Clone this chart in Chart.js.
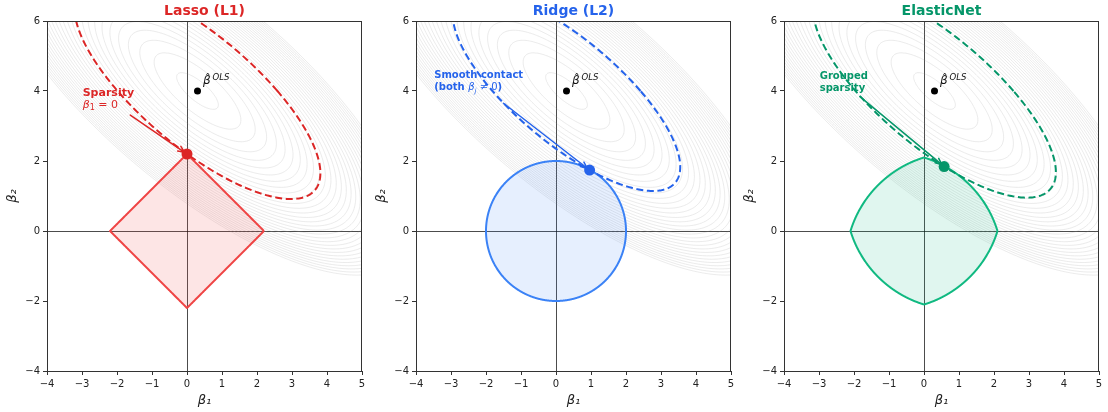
<!DOCTYPE html>
<html><head><meta charset="utf-8">
<script src="https://cdn.jsdelivr.net/npm/chart.js@4.4.0/dist/chart.umd.min.js"></script>
<style>
html,body{margin:0;padding:0;background:#fff;width:1108px;height:412px;overflow:hidden;}
.panel{position:absolute;top:0;width:368px;height:412px;}
canvas{display:block;}
</style></head><body>
<div class="panel" style="left:1px"><canvas id="c0" width="368" height="412"></canvas></div>
<div class="panel" style="left:370px"><canvas id="c1" width="368" height="412"></canvas></div>
<div class="panel" style="left:738px"><canvas id="c2" width="368" height="412"></canvas></div>
<script>
// ---------------- data ----------------
const panelTitles = ['Lasso (L1)', 'Ridge (L2)', 'ElasticNet'];
const xTicks = [-4, -3, -2, -1, 0, 1, 2, 3, 4, 5];
const yTicks = [-4, -2, 0, 2, 4, 6];
const olsB1 = [0.3];
const olsB2 = [4.0];
const lossGram = [[1.0, 0.864], [0.864, 1.294]];
const contourLevels = [0.15, 0.65, 1.15, 1.65, 2.15, 2.65, 3.15, 3.65, 4.15, 4.65, 5.15, 5.65, 6.15, 6.65, 7.15, 7.65, 8.15, 8.65, 9.15, 9.65, 10.15, 10.65, 11.15, 11.65, 12.15, 12.65, 13.15, 13.65, 14.15, 14.65, 15.15];
const tangentB1 = [0.0, 0.96, 0.575];
const tangentB2 = [2.2, 1.74, 1.84];
const constraintSize = [2.2, 2.0, 2.1];   // L1 budget, L2 radius, elastic-net axis intercept
const elasticMix = 0.65;

// ---------------- styling ----------------
const FONT = 'DejaVu Sans';
const darkColors = ['#dc2626', '#2563eb', '#059669'];
const edgeColors = ['#ef4444', '#3b82f6', '#10b981'];
const fillColors = ['rgba(239,68,68,0.14)', 'rgba(59,130,246,0.13)', 'rgba(16,185,129,0.13)'];

const annotations = [
  {lines: [
    [{t: 'Sparsity', f: 'bold 11px ' + FONT}],
    [{t: 'β', f: 'italic 11px ' + FONT}, {t: '1', f: '8px ' + FONT, dy: 3}, {t: ' = 0', f: '11px ' + FONT}]
   ], x: -2.98, y: [3.95, 3.6], from: [-1.62, 3.31]},
  {lines: [
    [{t: 'Smooth contact', f: 'bold 10px ' + FONT}],
    [{t: '(both ', f: 'bold 10px ' + FONT}, {t: 'β', f: 'italic 10px ' + FONT}, {t: 'j', f: 'italic 7px ' + FONT, dy: 3}, {t: ' ≠ 0', f: '10px ' + FONT}, {t: ')', f: 'bold 10px ' + FONT}]
   ], x: -3.48, y: [4.44, 4.09], from: [-1.5, 3.65]},
  {lines: [
    [{t: 'Grouped', f: 'bold 10px ' + FONT}],
    [{t: 'sparsity', f: 'bold 10px ' + FONT}]
   ], x: -2.98, y: [4.43, 4.08], from: [-1.83, 3.84]}
];

// ---------------- geometry helpers ----------------
function lossAt(b1, b2) {
  const d1 = b1 - olsB1[0], d2 = b2 - olsB2[0];
  return lossGram[0][0]*d1*d1 + 2*lossGram[0][1]*d1*d2 + lossGram[1][1]*d2*d2;
}
function ellipsePoints(q, n) {
  const l11 = Math.sqrt(lossGram[0][0]);
  const l21 = lossGram[0][1] / l11;
  const l22 = Math.sqrt(lossGram[1][1] - l21*l21);
  const s = Math.sqrt(q), pts = [];
  for (let i = 0; i <= n; i++) {
    const t = 2*Math.PI*i/n;
    const u1 = s*Math.cos(t), u2 = s*Math.sin(t);
    const d2 = u2 / l22, d1 = (u1 - l21*d2) / l11;
    pts.push({x: olsB1[0] + d1, y: olsB2[0] + d2});
  }
  return pts;
}
function regionRadius(kind, size, th) {
  const c = Math.abs(Math.cos(th)), s = Math.abs(Math.sin(th));
  if (kind === 0) return size / (c + s);
  if (kind === 1) return size;
  const a = elasticMix, t = a*size + (1-a)*size*size, S = c + s;
  return (-a*S + Math.sqrt(a*a*S*S + 4*(1-a)*t)) / (2*(1-a));
}
function regionPoints(kind, size, n) {
  const pts = [];
  for (let i = 0; i <= n; i++) {
    const th = 2*Math.PI*i/n;
    const r = regionRadius(kind, size, th);
    pts.push({x: r*Math.cos(th), y: r*Math.sin(th)});
  }
  return pts;
}
const minus = v => String(v).replace('-', '\u2212');

function drawRuns(ctx, x, y, runs, color) {
  let cx = x;
  ctx.fillStyle = color;
  ctx.textAlign = 'left';
  ctx.textBaseline = 'middle';
  for (const r of runs) {
    ctx.font = r.f;
    ctx.fillText(r.t, cx, y + (r.dy || 0));
    cx += ctx.measureText(r.t).width;
  }
}
function drawArrow(ctx, x1, y1, x2, y2, color) {
  const ang = Math.atan2(y2 - y1, x2 - x1);
  x2 -= 3*Math.cos(ang); y2 -= 3*Math.sin(ang);
  ctx.save();
  ctx.strokeStyle = color; ctx.lineWidth = 1.5; ctx.lineCap = 'round';
  ctx.beginPath(); ctx.moveTo(x1, y1); ctx.lineTo(x2, y2); ctx.stroke();
  const L = 7, w = 0.42;
  ctx.beginPath();
  ctx.moveTo(x2 - L*Math.cos(ang - w), y2 - L*Math.sin(ang - w));
  ctx.lineTo(x2, y2);
  ctx.lineTo(x2 - L*Math.cos(ang + w), y2 - L*Math.sin(ang + w));
  ctx.stroke();
  ctx.restore();
}

const decorPlugin = {
  id: 'decor',
  beforeDatasetsDraw(chart) {
    const {ctx, chartArea: a, scales: {x, y}} = chart;
    ctx.save();
    ctx.strokeStyle = 'rgba(0,0,0,0.7)'; ctx.lineWidth = 1;
    const px = Math.round(x.getPixelForValue(0)) + 0.5;
    const py = Math.round(y.getPixelForValue(0)) + 0.5;
    ctx.beginPath(); ctx.moveTo(px, a.top); ctx.lineTo(px, a.bottom); ctx.stroke();
    ctx.beginPath(); ctx.moveTo(a.left, py); ctx.lineTo(a.right, py); ctx.stroke();
    ctx.restore();
  },
  beforeDatasetDraw(chart, args, opts) {
    if (args.index !== 0) return;
    const k = opts.panel, an = annotations[k];
    const {ctx, scales: {x, y}} = chart;
    drawArrow(ctx, x.getPixelForValue(an.from[0]), y.getPixelForValue(an.from[1]),
      x.getPixelForValue(tangentB1[k]), y.getPixelForValue(tangentB2[k]), darkColors[k]);
  },
  afterDatasetsDraw(chart, args, opts) {
    const k = opts.panel, an = annotations[k];
    const {ctx, scales: {x, y}} = chart;
    ctx.save();
    an.lines.forEach((runs, i) => drawRuns(ctx, x.getPixelForValue(an.x), y.getPixelForValue(an.y[i]), runs, darkColors[k]));
    // OLS label
    const ox = x.getPixelForValue(olsB1[0]), oy = y.getPixelForValue(olsB2[0]);
    ctx.fillStyle = '#111'; ctx.textBaseline = 'alphabetic'; ctx.textAlign = 'left';
    ctx.font = 'italic 12px ' + FONT;
    ctx.fillText('β', ox + 5.5, oy - 7);
    ctx.font = '11px ' + FONT;
    ctx.fillText('\u02C6', ox + 7.5, oy - 9.5);
    ctx.font = 'italic 8.5px ' + FONT;
    ctx.fillText('OLS', ox + 15, oy - 11);
    ctx.restore();
  },
  afterDraw(chart, args, opts) {
    const {ctx, chartArea: a} = chart;
    ctx.save();
    ctx.strokeStyle = '#333'; ctx.lineWidth = 1;
    ctx.strokeRect(Math.round(a.left) + 0.5, Math.round(a.top) + 0.5, Math.round(a.right - a.left) - 1, Math.round(a.bottom - a.top));
    ctx.fillStyle = darkColors[opts.panel];
    ctx.font = 'bold 14px ' + FONT;
    ctx.textAlign = 'center'; ctx.textBaseline = 'middle';
    ctx.fillText(panelTitles[opts.panel], (a.left + a.right)/2, 11);
    ctx.restore();
  }
};

function makePanel(k) {
  const datasets = [];
  datasets.push({data: [{x: tangentB1[k], y: tangentB2[k]}], order: 0, showLine: false,
    pointRadius: 5.5, pointBackgroundColor: darkColors[k], pointBorderWidth: 0});
  datasets.push({data: [{x: olsB1[0], y: olsB2[0]}], order: 1, showLine: false,
    pointRadius: 3.5, pointBackgroundColor: '#000', pointBorderWidth: 0});
  datasets.push({data: ellipsePoints(lossAt(tangentB1[k], tangentB2[k]), 360), order: 2, showLine: true,
    pointRadius: 0, borderColor: darkColors[k], borderWidth: 2, borderDash: [7, 3.6], fill: false});
  datasets.push({data: regionPoints(k, constraintSize[k], 720), order: 3, showLine: true, tension: 0.0001,
    pointRadius: 0, borderColor: edgeColors[k], borderWidth: 2, backgroundColor: fillColors[k], fill: 'shape'});
  contourLevels.forEach(q => datasets.push({data: ellipsePoints(q, 240), order: 4, showLine: true, tension: 0.0001,
    pointRadius: 0, borderColor: 'rgba(150,150,150,0.27)', borderWidth: 0.7, fill: false}));

  new Chart(document.getElementById('c' + k), {
    type: 'scatter',
    data: {datasets},
    options: {
      responsive: false, animation: false, events: [], devicePixelRatio: 1,
      layout: {padding: {left: 0, right: 7, top: 21, bottom: 0}},
      plugins: {legend: {display: false}, tooltip: {enabled: false}, decor: {panel: k}},
      scales: {
        x: {type: 'linear', min: -4, max: 5,
          afterFit: s => { s.height = 41; },
          afterBuildTicks: s => { s.ticks = xTicks.map(v => ({value: v})); },
          ticks: {callback: minus, color: '#222', font: {family: FONT, size: 10}, padding: 3, maxRotation: 0, autoSkip: false},
          grid: {drawOnChartArea: false, drawTicks: true, tickLength: 4, color: '#333'},
          border: {display: false},
          title: {display: true, text: 'β₁', color: '#222', font: {family: FONT, size: 13, style: 'italic'}, padding: {top: 2, bottom: 4}}},
        y: {type: 'linear', min: -4, max: 6,
          afterFit: s => { s.width = 46; },
          afterBuildTicks: s => { s.ticks = yTicks.map(v => ({value: v})); },
          ticks: {callback: minus, color: '#222', font: {family: FONT, size: 10}, padding: 3, autoSkip: false},
          grid: {drawOnChartArea: false, drawTicks: true, tickLength: 4, color: '#333'},
          border: {display: false},
          title: {display: true, text: 'β₂', color: '#222', font: {family: FONT, size: 13, style: 'italic'}, padding: {top: 4, bottom: 2}}}
      }
    },
    plugins: [decorPlugin]
  });
}
[0, 1, 2].forEach(makePanel);
</script>
</body></html>
